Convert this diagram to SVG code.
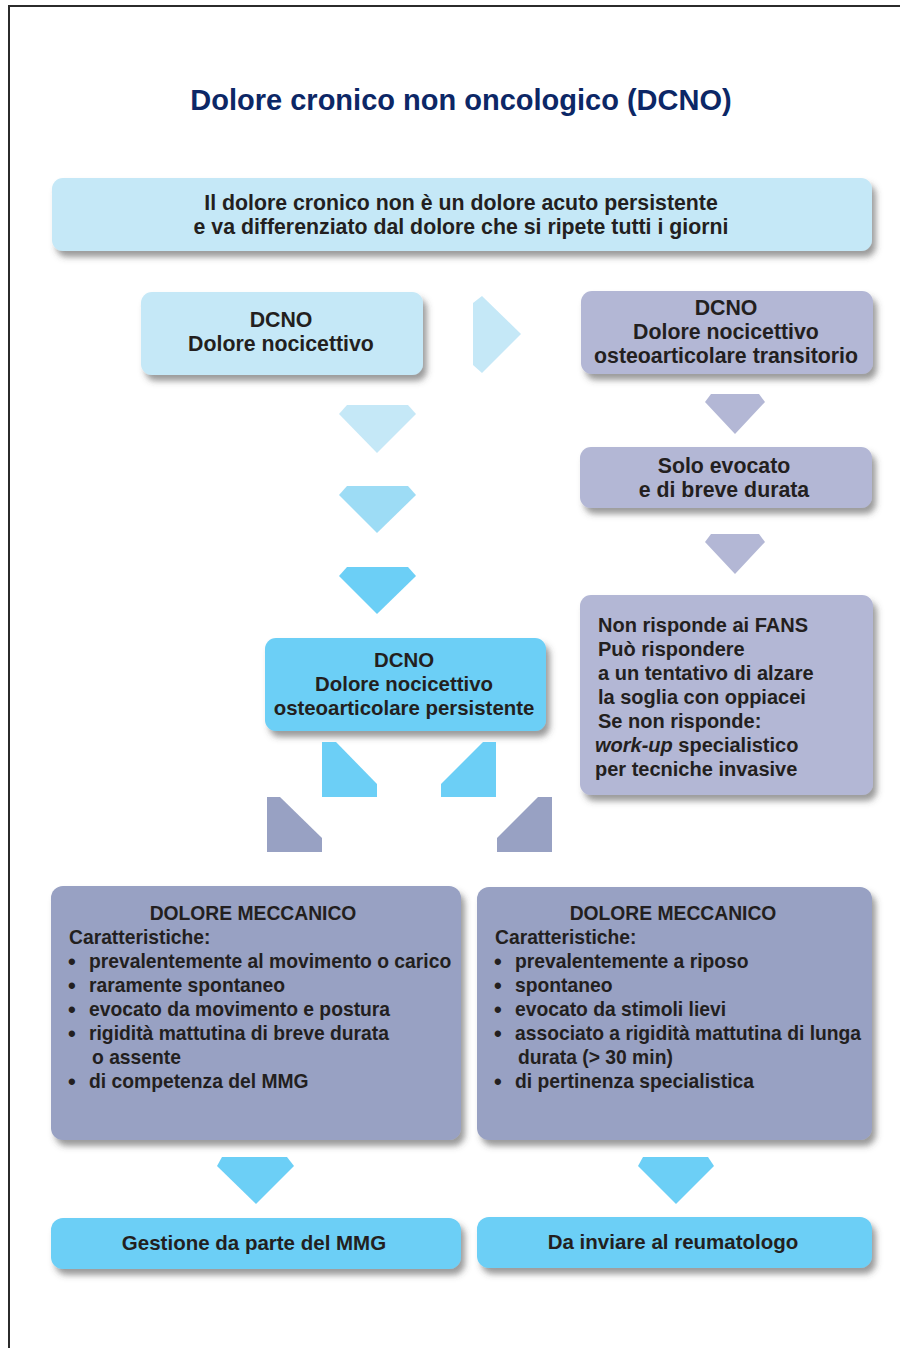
<svg xmlns="http://www.w3.org/2000/svg" width="900" height="1348" viewBox="0 0 900 1348">
<defs>
<filter id="sh" x="-10%" y="-10%" width="125%" height="140%">
<feDropShadow dx="4" dy="6" stdDeviation="3" flood-color="#4a4a4a" flood-opacity="0.55"/>
</filter>
</defs>
<style>
text{font-family:"Liberation Sans",Arial,sans-serif;font-weight:bold;fill:#231f20;font-size:19.3px}
.c{text-anchor:middle}
.title{font-size:29px;fill:#0c2766}
.big{font-size:21.3px}
.m20{font-size:20.4px}
.m20b{font-size:20px}
.m205{font-size:20.5px}
.bul{font-size:22px}
.lb{fill:#c5e8f7}
.mb{fill:#9ddcf5}
.b{fill:#6ccff6}
.g{fill:#b3b7d5}
.d{fill:#98a1c3}
.it{font-style:italic}
</style>
<rect x="0" y="0" width="900" height="1348" fill="#ffffff"/>
<path d="M9 1348 V6 H900" fill="none" stroke="#2b2b2b" stroke-width="2"/>
<text class="title c" x="461" y="110">Dolore cronico non oncologico (DCNO)</text>

<g id="top">
<rect class="lb" x="52" y="178" width="820" height="73" rx="11" filter="url(#sh)"/>
<text class="c big" x="461" y="210">Il dolore cronico non è un dolore acuto persistente</text>
<text class="c big" x="461" y="234">e va differenziato dal dolore che si ripete tutti i giorni</text>
</g>
<g id="nocicettivo">
<rect class="lb" x="141" y="292" width="282" height="83" rx="11" filter="url(#sh)"/>
<text class="c big" x="281" y="327">DCNO</text>
<text class="c big" x="281" y="351">Dolore nocicettivo</text>
</g>
<g id="transitorio">
<rect class="g" x="581" y="291" width="292" height="83" rx="11" filter="url(#sh)"/>
<text class="c big" x="726" y="315">DCNO</text>
<text class="c big" x="726" y="339">Dolore nocicettivo</text>
<text class="c big" x="726" y="363">osteoarticolare transitorio</text>
</g>
<g id="solo">
<rect class="g" x="580" y="447" width="292" height="61" rx="11" filter="url(#sh)"/>
<text class="c big" x="724" y="473">Solo evocato</text>
<text class="c big" x="724" y="497">e di breve durata</text>
</g>
<g id="nonrisponde">
<rect class="g" x="580" y="595" width="293" height="200" rx="11" filter="url(#sh)"/>
<text class="m20b" x="598" y="632">Non risponde ai FANS</text>
<text class="m20b" x="598" y="656">Può rispondere</text>
<text class="m20b" x="598" y="680">a un tentativo di alzare</text>
<text class="m20b" x="598" y="704">la soglia con oppiacei</text>
<text class="m20b" x="598" y="728">Se non risponde:</text>
<text class="m20b" x="595" y="752"><tspan class="it">work-up</tspan> specialistico</text>
<text class="m20b" x="595" y="776">per tecniche invasive</text>
</g>
<g id="persistente">
<rect class="b" x="265" y="638" width="281" height="93" rx="11" filter="url(#sh)"/>
<text class="c m20" x="404" y="667">DCNO</text>
<text class="c m20" x="404" y="691">Dolore nocicettivo</text>
<text class="c m20" x="404" y="715">osteoarticolare persistente</text>
</g>
<g id="meccanico1">
<rect class="d" x="51" y="886" width="410" height="254" rx="12" filter="url(#sh)"/>
<text class="c" x="253" y="920">DOLORE MECCANICO</text>
<text x="69" y="944">Caratteristiche:</text>
<text class="bul" x="68" y="969">•</text><text x="89" y="968">prevalentemente al movimento o carico</text>
<text class="bul" x="68" y="993">•</text><text x="89" y="992">raramente spontaneo</text>
<text class="bul" x="68" y="1017">•</text><text x="89" y="1016">evocato da movimento e postura</text>
<text class="bul" x="68" y="1041">•</text><text x="89" y="1040">rigidità mattutina di breve durata</text>
<text x="92" y="1064">o assente</text>
<text class="bul" x="68" y="1089">•</text><text x="89" y="1088">di competenza del MMG</text>
</g>
<g id="meccanico2">
<rect class="d" x="477" y="887" width="395" height="253" rx="12" filter="url(#sh)"/>
<text class="c" x="673" y="920">DOLORE MECCANICO</text>
<text x="495" y="944">Caratteristiche:</text>
<text class="bul" x="494" y="969">•</text><text x="515" y="968">prevalentemente a riposo</text>
<text class="bul" x="494" y="993">•</text><text x="515" y="992">spontaneo</text>
<text class="bul" x="494" y="1017">•</text><text x="515" y="1016">evocato da stimoli lievi</text>
<text class="bul" x="494" y="1041">•</text><text x="515" y="1040">associato a rigidità mattutina di lunga</text>
<text x="518" y="1064">durata (&gt; 30 min)</text>
<text class="bul" x="494" y="1089">•</text><text x="515" y="1088">di pertinenza specialistica</text>
</g>
<g id="gestione">
<rect class="b" x="51" y="1218" width="410" height="51" rx="12" filter="url(#sh)"/>
<text class="c m205" x="254" y="1250">Gestione da parte del MMG</text>
</g>
<g id="reumatologo">
<rect class="b" x="477" y="1217" width="395" height="51" rx="12" filter="url(#sh)"/>
<text class="c m205" x="673" y="1249">Da inviare al reumatologo</text>
</g>

<g id="connectors">
<polygon class="lb" points="473,303 482,296 521,334 482,373 473,365"/>
<polygon class="lb" points="347,405 408,405 416,414 377,453 339,414"/>
<polygon class="mb" points="347,486 408,486 416,495 377,533 339,495"/>
<polygon class="b" points="347,567 408,567 416,576 377,614 339,576"/>
<polygon class="g" points="711,394 759,394 765,402 735,434 705,402"/>
<polygon class="g" points="711,534 759,534 765,542 735,574 705,542"/>
<polygon class="b" points="322,742 336,742 377,784 377,797 322,797"/>
<polygon class="b" points="441,797 441,784 483,742 496,742 496,797"/>
<polygon class="d" points="267,797 280,797 322,838 322,852 267,852"/>
<polygon class="d" points="497,852 497,838 538,797 552,797 552,852"/>
<polygon class="b" points="222,1157 287,1157 294,1166 256,1204 217,1166"/>
<polygon class="b" points="643,1157 708,1157 714,1166 676,1204 638,1166"/>
</g>
</svg>
